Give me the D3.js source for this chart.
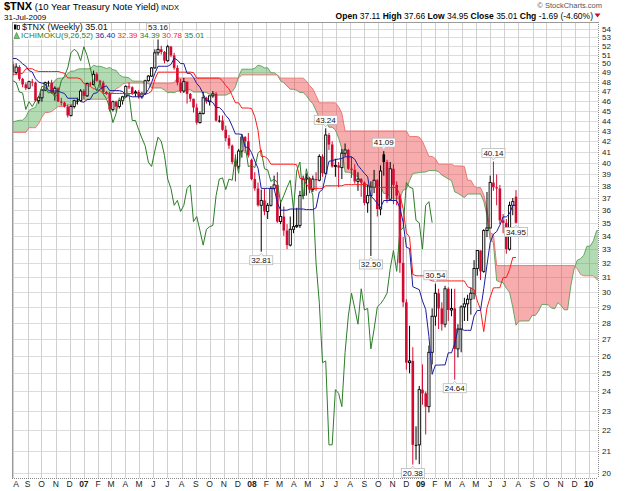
<!DOCTYPE html>
<html>
<head>
<meta charset="utf-8">
<script src="https://cdn.jsdelivr.net/npm/d3@7"></script>
<style>
body { margin: 0; background: #fff; }
svg text { font-family: Arial, "Liberation Sans", sans-serif; }
</style>
</head>
<body>
<div id="viz"></div>
<script>
// weekly $TNX bars, first bar = week of Mon 31-Jul-2006, last = week ending 31-Jul-2009
var firstWeek = new Date(2006, 6, 31);

var opens = [
  49.9,49.0,49.6,48.3,47.7,47.3,48.0,47.9,46.0,46.3,
  47.1,47.9,47.9,46.8,47.3,45.9,45.8,45.4,44.5,45.4,
  46.0,46.0,47.0,46.5,47.8,47.7,48.8,48.1,47.9,46.9,
  46.8,45.1,45.9,45.4,46.0,46.4,47.5,47.4,46.8,46.9,
  46.4,46.7,48.1,48.6,49.5,51.2,51.6,51.3,50.3,51.9,
  50.9,49.5,47.9,47.0,48.0,46.7,46.2,45.3,43.8,44.7,
  46.3,45.9,46.5,46.7,44.0,44.0,43.1,42.3,41.6,40.1,
  39.7,41.1,42.4,42.0,40.3,38.6,37.8,36.4,36.8,35.9,
  36.4,37.8,38.1,35.1,35.5,34.4,33.3,34.5,34.7,34.8,
  37.2,38.6,38.7,37.7,38.6,38.5,40.6,39.1,42.6,41.7,
  39.7,39.8,39.6,40.9,41.2,39.5,39.4,38.4,38.6,38.3,
  36.6,37.2,37.9,38.5,36.1,40.8,40.1,36.9,39.5,38.1,
  37.2,32.0,29.3,25.6,25.7,21.3,21.3,24.1,23.9,23.2,
  26.2,28.4,29.9,28.9,27.9,30.2,28.8,28.9,26.4,27.6,
  29.0,29.2,29.5,29.9,31.6,32.9,31.4,34.4,34.6,38.3,
  37.9,37.8,35.2,35.0,33.0,36.4,37.11];
var highs = [
  50.2,50.0,49.8,48.4,47.9,48.1,48.3,48.0,46.5,47.2,
  48.0,48.1,48.2,47.5,47.4,46.3,45.9,45.6,45.6,46.1,
  46.3,47.2,47.2,47.9,48.0,49.2,49.0,48.2,48.1,47.0,
  46.9,46.0,46.0,46.1,46.5,47.6,47.9,47.5,47.1,47.1,
  46.9,48.2,48.7,49.6,51.6,53.16,52.0,51.4,52.1,52.0,
  51.2,49.8,48.3,48.4,48.0,46.8,46.2,45.7,44.9,46.9,
  46.4,46.5,47.0,46.9,44.5,44.5,43.5,42.6,41.7,40.8,
  41.3,42.7,42.5,42.8,40.4,39.2,38.3,37.7,37.8,36.6,
  38.0,38.9,39.2,36.8,36.3,34.9,35.5,36.3,36.2,37.6,
  38.9,39.1,38.8,38.9,39.2,40.8,40.8,43.24,42.8,42.0,
  40.4,40.1,41.3,41.8,41.3,40.6,39.9,39.2,38.7,38.4,
  38.1,38.4,39.4,38.6,39.8,41.09,40.3,40.1,39.9,38.4,
  37.3,33.9,29.5,27.8,26.5,22.2,24.3,25.5,24.0,26.6,
  28.9,30.54,30.2,29.3,30.4,30.3,30.2,30.2,27.9,29.1,
  29.6,29.8,30.3,32.2,32.9,32.9,34.5,37.5,38.9,40.14,
  39.0,38.1,35.7,35.3,36.7,37.0,37.66];
var lows = [
  48.6,48.8,48.1,47.4,47.1,47.2,47.5,45.9,45.7,45.9,
  47.0,47.5,46.7,46.0,45.9,45.5,45.3,44.3,44.4,45.2,
  45.6,45.9,46.2,46.4,47.5,47.6,48.0,47.3,46.8,46.6,
  44.9,44.9,44.9,45.2,45.6,46.3,47.2,46.6,46.4,46.2,
  46.2,46.6,48.0,48.5,49.4,50.9,51.0,50.0,50.2,50.7,
  49.3,47.6,46.8,46.8,45.7,45.9,44.8,43.6,43.7,44.6,
  45.7,45.5,46.3,43.9,43.8,43.0,42.0,41.3,39.9,38.4,
  39.5,40.5,40.9,40.5,38.5,37.6,36.3,32.81,35.6,35.3,
  36.3,37.7,35.0,34.9,34.0,33.0,33.2,34.2,34.6,34.6,
  37.1,37.2,37.4,37.5,37.6,38.4,38.8,39.0,41.2,39.6,
  38.8,37.9,38.6,40.6,39.4,38.7,38.2,37.6,37.1,36.4,
  35.8,32.50,37.4,35.5,35.6,38.9,36.6,36.8,36.5,36.4,
  31.3,29.0,25.2,25.0,20.38,20.6,20.4,23.3,21.8,22.9,
  25.5,27.8,27.6,27.5,27.7,28.1,28.4,24.64,25.9,26.2,
  28.1,28.1,28.5,29.5,31.1,30.8,31.3,33.9,34.6,37.6,
  36.4,34.9,34.2,32.66,32.9,35.6,34.95];
var closes = [
  49.0,49.6,48.3,47.7,47.3,48.0,47.9,46.0,46.3,47.1,
  47.9,47.9,46.8,47.3,45.9,45.8,45.4,44.5,45.4,46.0,
  46.0,47.0,46.5,47.8,47.7,48.8,48.1,47.9,46.9,46.8,
  45.1,45.9,45.4,46.0,46.4,47.5,47.4,46.8,46.9,46.4,
  46.7,48.1,48.6,49.5,51.2,51.6,51.3,50.3,51.9,50.9,
  49.5,47.9,47.0,48.0,46.7,46.2,45.3,43.8,44.7,46.3,
  45.9,46.5,46.7,44.0,44.0,43.1,42.3,41.6,40.1,39.7,
  41.1,42.4,42.0,40.7,38.6,37.8,36.4,36.8,35.9,36.4,
  37.8,38.1,35.1,35.5,34.4,33.3,34.5,34.7,34.8,37.2,
  38.6,38.7,37.7,38.6,38.5,40.6,39.1,42.6,41.7,39.7,
  39.8,39.6,40.9,41.2,39.5,39.4,38.4,38.6,38.3,36.6,
  37.2,37.9,38.5,36.1,39.3,40.1,36.9,39.5,38.1,37.2,
  32.0,29.3,25.6,25.7,21.3,21.3,24.1,23.9,23.2,26.2,
  28.4,29.9,28.9,27.9,30.2,28.8,28.9,26.4,27.6,29.0,
  29.2,29.5,29.9,31.6,32.9,31.4,34.4,34.6,38.3,37.9,
  37.8,35.2,35.0,33.0,36.4,36.7,35.01];

// weekly highs / lows before the window (Feb-2005 .. Jul-2006), needed for the 9/26/52 look-backs
var priorHighs = [
  41.9,41.2,42.8,43.1,43.9,45.5,45.7,46.4,46.6,45.0,44.7,43.0,42.9,42.9,43.0,41.7,41.3,40.6,40.5,41.1,
  40.7,40.9,41.1,41.9,42.7,42.9,43.9,44.1,42.7,42.3,41.8,41.5,42.8,42.8,43.5,43.9,45.0,45.0,45.8,46.9,
  46.8,45.9,44.9,45.4,45.6,45.3,44.6,43.9,44.1,44.3,44.1,45.3,45.6,45.9,46.2,45.9,46.9,47.8,47.6,47.0,
  48.6,49.9,50.8,50.7,51.0,51.5,52.0,51.9,50.9,51.3,50.2,51.4,52.4,52.5,52.3,51.3,51.0,50.7];
var priorLows = [
  40.5,40.2,40.6,42.2,42.9,43.3,44.8,45.0,44.4,44.1,42.5,42.0,41.8,41.1,41.1,40.8,40.6,38.8,39.1,39.9,
  39.1,39.2,40.2,40.9,41.5,42.0,42.7,42.3,41.9,41.5,39.8,40.4,41.2,42.0,42.3,43.0,43.7,43.7,44.2,45.4,
  45.6,44.6,44.1,44.0,44.8,44.2,43.7,43.5,43.4,43.5,43.2,43.3,44.8,45.1,45.1,45.2,45.3,46.6,46.4,46.3,
  46.6,48.3,49.6,49.6,49.8,50.5,51.0,50.4,50.2,49.7,49.4,49.7,51.2,51.3,50.8,50.2,49.9,49.8];

var yTicks = d3.range(20, 55);
var monthNames = ["J","F","M","A","M","J","J","A","S","O","N","D"];

// labelled swing points: [bar index, "high" | "low"]
var swings = [[45,"high"],[97,"high"],[115,"high"],[131,"high"],[149,"high"],
              [77,"low"],[111,"low"],[124,"low"],[137,"low"],[156,"low"]];

var legendValues = ["36.40", "32.39", "34.39", "30.78", "35.01"];

// ---------------------------------------------------------------
var W = 625, Ht = 491;
var plot = {l: 12, r: 598, t: 22, b: 478};
var red = "#d40a32";

var svg = d3.select("#viz").append("svg").attr("width", W).attr("height", Ht);

var x = d3.scaleTime()
    .domain([new Date(2006, 6, 29), new Date(2010, 0, 21)])
    .range([plot.l, plot.r]);
var y = d3.scaleLog().domain([20, 54]).range([473, 29]);

function wk(k){ return d3.timeDay.offset(firstWeek, 7 * k); }

// ichimoku
var P = priorHighs.length;
var H = priorHighs.concat(highs), L = priorLows.concat(lows);
function mid(g, n){
  var hi = -Infinity, lo = Infinity;
  for (var j = Math.max(0, g - n + 1); j <= g; j++){ hi = Math.max(hi, H[j]); lo = Math.min(lo, L[j]); }
  return (hi + lo) / 2;
}
var n = closes.length;
var tenkan = [], kijun = [], cloud = [], chikou = [];
for (var k = 0; k < n; k++){
  tenkan.push({d: wk(k), v: mid(P + k, 9)});
  kijun.push({d: wk(k), v: mid(P + k, 26)});
}
for (var k = 0; k < n + 26; k++){
  var g = P + k - 26;
  cloud.push({d: wk(k), a: (mid(g, 9) + mid(g, 26)) / 2, b: mid(g, 52)});
}
for (var k = 0; k + 26 < n; k++) chikou.push({d: wk(k), v: closes[k + 26]});

var defs = svg.append("defs");
defs.append("clipPath").attr("id", "plotclip").append("rect")
    .attr("x", plot.l).attr("y", plot.t).attr("width", plot.r - plot.l).attr("height", plot.b - plot.t);
defs.append("clipPath").attr("id", "clipAbove").append("path")
    .attr("d", d3.area().x(function(d){ return x(d.d); }).y0(0).y1(function(d){ return y(d.b); })(cloud));
defs.append("clipPath").attr("id", "clipBelow").append("path")
    .attr("d", d3.area().x(function(d){ return x(d.d); }).y0(Ht).y1(function(d){ return y(d.b); })(cloud));

// grid
var grid = svg.append("g");
grid.selectAll(".hg").data(yTicks).enter().append("line")
    .attr("x1", plot.l).attr("x2", plot.r)
    .attr("y1", function(d){ return Math.round(y(d)) + 0.5; })
    .attr("y2", function(d){ return Math.round(y(d)) + 0.5; })
    .style("stroke", "#dcdcdc");
var months = d3.timeMonth.range(new Date(2006, 7, 1), new Date(2010, 1, 1));
grid.selectAll(".vg").data(months.filter(function(m){ return x(m) > plot.l + 1 && x(m) < plot.r; })).enter().append("line")
    .attr("y1", plot.t).attr("y2", plot.b)
    .attr("x1", function(d){ return Math.round(x(d)) + 0.5; })
    .attr("x2", function(d){ return Math.round(x(d)) + 0.5; })
    .style("stroke", "#d0d0d0");

var pg = svg.append("g").attr("clip-path", "url(#plotclip)");

// cloud
var band = d3.area().x(function(d){ return x(d.d); })
    .y0(function(d){ return y(d.a); }).y1(function(d){ return y(d.b); });
pg.append("g").attr("clip-path", "url(#clipAbove)").append("path")
    .attr("d", band(cloud)).style("fill", "#3ea540").style("fill-opacity", 0.4);
pg.append("g").attr("clip-path", "url(#clipBelow)").append("path")
    .attr("d", band(cloud)).style("fill", "#ec3b3b").style("fill-opacity", 0.42);
pg.append("path").attr("d", d3.line().x(function(d){ return x(d.d); }).y(function(d){ return y(d.a); })(cloud))
    .style("fill", "none").style("stroke", "#5a9e56").style("stroke-width", 0.9);
pg.append("path").attr("d", d3.line().x(function(d){ return x(d.d); }).y(function(d){ return y(d.b); })(cloud))
    .style("fill", "none").style("stroke", "#ee6b6b").style("stroke-width", 0.9);

// candles
var bars = d3.range(n).map(function(i){
  return {d: wk(i), o: opens[i], h: highs[i], l: lows[i], c: closes[i],
          pc: i > 0 ? closes[i - 1] : opens[i]};
});
var cg = pg.append("g");
bars.forEach(function(b){
  var cx = x(b.d);
  var col = b.c >= b.pc ? "#000" : red;
  cg.append("line").attr("x1", cx).attr("x2", cx).attr("y1", y(b.h)).attr("y2", y(b.l))
      .style("stroke", col).style("stroke-width", 1);
  var top = y(Math.max(b.o, b.c)), bot = y(Math.min(b.o, b.c));
  var hh = Math.max(1, bot - top);
  if (b.c > b.o){
    cg.append("rect").attr("x", cx - 1.1).attr("y", top).attr("width", 2.2).attr("height", hh)
        .style("fill", "#fff").style("stroke", col).style("stroke-width", 0.9);
  } else {
    cg.append("rect").attr("x", cx - 1.3).attr("y", top).attr("width", 2.6).attr("height", hh)
        .style("fill", col);
  }
});

// ichimoku lines
function vline(data, color){
  pg.append("path").attr("d", d3.line().x(function(d){ return x(d.d); }).y(function(d){ return y(d.v); })(data))
      .style("fill", "none").style("stroke", color).style("stroke-width", 1);
}
vline(chikou, "#2b7d27");
vline(kijun, "#ff1a1a");
vline(tenkan, "#1c1ca0");

// frame
svg.append("line").attr("x1", plot.l + 0.5).attr("x2", plot.l + 0.5).attr("y1", plot.t).attr("y2", plot.b).style("stroke", "#9a9a9a");
svg.append("line").attr("x1", plot.l).attr("x2", plot.r).attr("y1", plot.t + 0.5).attr("y2", plot.t + 0.5).style("stroke", "#9a9a9a");
svg.append("line").attr("x1", plot.r + 0.5).attr("x2", plot.r + 0.5).attr("y1", plot.t).attr("y2", plot.b).style("stroke", "#888").style("stroke-dasharray", "1,1");
svg.append("line").attr("x1", plot.l).attr("x2", plot.r).attr("y1", plot.b + 0.5).attr("y2", plot.b + 0.5).style("stroke", "#888").style("stroke-dasharray", "1,1");

// y labels
svg.selectAll(".yl").data(yTicks).enter().append("text")
    .attr("x", plot.r + 4).attr("y", function(d){ return y(d) + 3; })
    .style("font-size", "8px").style("fill", "#222").text(function(d){ return d; });

// x labels
svg.selectAll(".xl").data(months).enter().append("text")
    .attr("x", function(d){ return Math.max(16, x(d)); }).attr("y", 487)
    .attr("text-anchor", "middle")
    .style("font-size", "8.5px").style("fill", "#222")
    .style("font-weight", function(d){ return d.getMonth() === 0 ? "bold" : "normal"; })
    .text(function(d){ return d.getMonth() === 0 ? d3.timeFormat("%y")(d) : monthNames[d.getMonth()]; });

// swing labels
var ag = svg.append("g");
swings.forEach(function(s){
  var i = s[0], b = bars[i], cx = x(b.d);
  var v = s[1] === "high" ? b.h : b.l;
  var py = y(v);
  var txt = ag.append("text").attr("text-anchor", "middle").style("font-size", "8px").style("fill", "#111").text(v.toFixed(2));
  var w = txt.node().getComputedTextLength() + 3, bh = 9;
  var by = s[1] === "high" ? py - 4 - bh : py + 4;
  var bx = cx - w / 2;
  var tip = s[1] === "high"
    ? [[cx - 2, by + bh], [cx, by + bh + 2.5], [cx + 2, by + bh]]
    : [[cx - 2, by], [cx, by - 2.5], [cx + 2, by]];
  ag.insert("rect", "text").attr("x", bx).attr("y", by).attr("width", w).attr("height", bh)
      .style("fill", "#fff").style("stroke", "#b8b8b8").style("stroke-width", 0.8);
  ag.insert("path", "text").attr("d", "M" + tip.join("L")).style("fill", "#fff").style("stroke", "#b8b8b8").style("stroke-width", 0.8);
  txt.attr("x", cx).attr("y", by + bh - 1.8);
});

// legend inside the plot
var lg = svg.append("g");
var l1 = lg.append("text").attr("x", 22).attr("y", 29.5).style("font-size", "9px").style("fill", "#111")
    .text("$TNX (Weekly) 35.01");
var l2 = lg.append("text").attr("x", 21).attr("y", 38).style("font-size", "8px");
l2.append("tspan").style("fill", "#2b7d27").text("ICHIMOKU(9,26,52)");
var lcol = ["#1c1ca0", "#ff1a1a", "#2b7d27", "#ff1a1a", "#2b7d27"];
legendValues.forEach(function(v, i){ l2.append("tspan").style("fill", lcol[i]).text(" " + v); });
lg.insert("rect", "text").attr("x", 13).attr("y", 23).attr("width", l1.node().getComputedTextLength() + 11).attr("height", 8).style("fill", "#fff");
lg.insert("rect", "text").attr("x", 13).attr("y", 31).attr("width", l2.node().getComputedTextLength() + 10).attr("height", 8.5).style("fill", "#fff");
// tiny icons
lg.append("rect").attr("x", 14).attr("y", 24.5).attr("width", 2.5).attr("height", 5).style("fill", "#000");
lg.append("rect").attr("x", 17.5).attr("y", 25.5).attr("width", 2).attr("height", 4).style("fill", "#fff").style("stroke", "#000").style("stroke-width", 0.7);
lg.append("path").attr("d", "M14,38.5L16.5,32.5L19.5,38.5Z").style("fill", "#7cc07a").style("stroke", "#2b7d27").style("stroke-width", 0.6);

// header
var title = svg.append("text").attr("x", 4).attr("y", 10);
title.append("tspan").style("font-size", "11px").style("font-weight", "bold").text("$TNX");
title.append("tspan").style("font-size", "9.5px").text(" (10 Year Treasury Note Yield)");
title.append("tspan").style("font-size", "7.5px").text(" INDX");
svg.append("text").attr("x", 4).attr("y", 19.5).style("font-size", "8px").text("31-Jul-2009");

svg.append("text").attr("x", 602).attr("y", 7.5).attr("text-anchor", "end")
    .style("font-size", "7.5px").style("fill", "#555").text("\u00a9 StockCharts.com");
var hdr = svg.append("text").attr("x", 593).attr("y", 18.5).attr("text-anchor", "end").style("font-size", "8.5px");
[["Open", "37.11"], ["High", "37.66"], ["Low", "34.95"], ["Close", "35.01"], ["Chg", "-1.69 (-4.60%)"]].forEach(function(p, i){
  hdr.append("tspan").style("font-weight", "bold").text((i ? "  " : "") + p[0] + " ");
  hdr.append("tspan").text(p[1]);
});
svg.append("path").attr("d", "M594.5,13.5L600.5,13.5L597.5,17.5Z").style("fill", red);
</script>
</body>
</html>
